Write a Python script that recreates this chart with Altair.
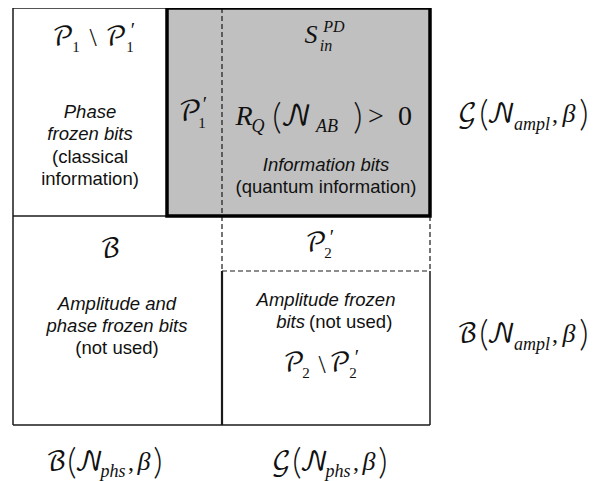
import altair as alt
import pandas as pd

# ---------------- diagram geometry (diagram units = page pixels) ----------------
X_LEFT, X_SPLIT1, X_SPLIT2, X_RIGHT = 13, 167, 222, 430
Y_TOP, Y_MID, Y_SUB, Y_BOTTOM = 8, 216, 271, 425

# shaded region (information bits)
gray_x = [X_SPLIT1]
gray_x2 = [X_RIGHT]
gray_y = [Y_TOP]
gray_y2 = [Y_MID]

# solid lines
solid_x = [X_LEFT, X_LEFT, X_LEFT, X_LEFT, X_SPLIT2, X_RIGHT]
solid_x2 = [X_LEFT, X_SPLIT1, X_RIGHT, X_SPLIT1, X_SPLIT2, X_RIGHT]
solid_y = [Y_TOP, Y_TOP, Y_BOTTOM, Y_MID, Y_SUB, Y_SUB]
solid_y2 = [Y_BOTTOM, Y_TOP, Y_BOTTOM, Y_MID, Y_BOTTOM, Y_BOTTOM]
solid_w = [1.5, 1.5, 1.5, 1.5, 2.2, 1.5]

# dashed lines
dash_x = [X_SPLIT2, X_SPLIT2, X_RIGHT]
dash_x2 = [X_SPLIT2, X_RIGHT, X_RIGHT]
dash_y = [Y_TOP, Y_SUB, Y_MID]
dash_y2 = [Y_SUB, Y_SUB, Y_SUB]

# ---------------- plain (sans) text ----------------
sans_text = ["Phase", "frozen bits", "(classical", "information)",
             "Information bits", "(quantum information)",
             "Amplitude and", "phase frozen bits", "(not used)",
             "Amplitude frozen", "bits", "(not used)"]
sans_x = [90, 90, 90, 90, 326, 326, 117, 117, 117, 326, 305, 309]
sans_y = [112, 134, 157, 179, 165, 187, 304, 326, 348, 300, 322, 322]
sans_italic = [True, True, False, False, True, False, True, True, False, True, True, False]
sans_align = ["center"] * 10 + ["right", "left"]

# ---------------- math pieces ----------------
# kinds: "scr" = script capital, "sym" = upright symbol, "par" = parenthesis,
#        "it" = italic letter, "sub" = italic sub/superscript
math_text, math_x, math_y, math_size, math_kind = [], [], [], [], []


def add(text, x, y, size, kind):
    math_text.append(text)
    math_x.append(x)
    math_y.append(y)
    math_size.append(size)
    math_kind.append(kind)


# P1 \ P1'
add("𝒫", 63, 45, 26, "scr"); add("1", 76, 52, 15, "sym"); add("\\", 93, 46, 26, "sym")
add("𝒫", 116, 45, 26, "scr"); add("1", 130, 52, 15, "sym"); add("′", 133, 37, 20, "sym")
# P1'
add("𝒫", 190, 121, 28, "scr"); add("1", 202, 128, 15, "sym"); add("′", 205, 111, 20, "sym")
# S_in^PD
add("S", 311, 43, 26, "it"); add("PD", 334, 32, 16, "sub"); add("in", 326, 51, 16, "sub")
# R_Q(N_AB) > 0
add("R", 244, 125, 28, "it"); add("Q", 258, 132, 18, "sub"); add("(", 277, 129, 36, "par")
add("𝒩", 296, 125, 28, "scr"); add("AB", 327, 132, 18, "sub"); add(")", 358, 129, 36, "par")
add(">", 376, 125, 28, "sym"); add("0", 405, 125, 28, "sym")
# B
add("ℬ", 110, 257, 26, "scr")
# P2'
add("𝒫", 316, 251, 26, "scr"); add("2", 328, 258, 15, "sym"); add("′", 332, 244, 20, "sym")
# P2 \ P2'
add("𝒫", 294, 371, 26, "scr"); add("2", 306, 378, 15, "sym"); add("\\", 322, 373, 26, "sym")
add("𝒫", 340, 371, 26, "scr"); add("2", 353, 378, 15, "sym"); add("′", 357, 364, 20, "sym")
# G(N_ampl, beta) and B(N_ampl, beta)
for letter, base in (("𝒢", 122), ("ℬ", 342)):
    add(letter, 467, base, 26, "scr"); add("(", 484, base + 4, 36, "par")
    add("𝒩", 501, base, 26, "scr"); add("ampl", 532, base + 8, 18, "sub")
    add(",", 555, base, 24, "sym"); add("β", 569, base, 26, "it"); add(")", 584, base + 4, 36, "par")
# B(N_phs, beta) and G(N_phs, beta)
for letter, x0 in (("ℬ", 56), ("𝒢", 281)):
    base = 470
    add(letter, x0, base, 26, "scr"); add("(", x0 + 16, base + 4, 36, "par")
    add("𝒩", x0 + 33, base, 26, "scr"); add("phs", x0 + 57, base + 7, 18, "sub")
    add(",", x0 + 75, base, 24, "sym"); add("β", x0 + 88, base, 26, "it"); add(")", x0 + 102, base + 4, 36, "par")

# ---------------- build chart ----------------
xs = alt.Scale(domain=[8, 602], nice=False, zero=False)
ys = alt.Scale(domain=[8, 481], nice=False, zero=False, reverse=True)


def X(f):
    return alt.X(f, type="quantitative", scale=xs, axis=None)


def Y(f):
    return alt.Y(f, type="quantitative", scale=ys, axis=None)


gray_df = pd.DataFrame({"x": gray_x, "x2": gray_x2, "y": gray_y, "y2": gray_y2})
solid_df = pd.DataFrame({"x": solid_x, "x2": solid_x2, "y": solid_y, "y2": solid_y2, "w": solid_w})
dash_df = pd.DataFrame({"x": dash_x, "x2": dash_x2, "y": dash_y, "y2": dash_y2})
sans_df = pd.DataFrame({"text": sans_text, "x": sans_x, "y": sans_y,
                        "italic": sans_italic, "align": sans_align})
math_df = pd.DataFrame({"text": math_text, "x": math_x, "y": math_y,
                        "size": math_size, "kind": math_kind})

gray = alt.Chart(gray_df).mark_rect(fill="#c0c0c0", stroke=None).encode(
    x=X("x"), x2="x2", y=Y("y"), y2="y2")

solid = alt.Chart(solid_df).mark_rule(color="#1a1a1a").encode(
    x=X("x"), x2="x2", y=Y("y"), y2="y2",
    strokeWidth=alt.StrokeWidth("w:Q", scale=None))

dashed = alt.Chart(dash_df).mark_rule(color="#1a1a1a", strokeWidth=1.2, strokeDash=[5, 3]).encode(
    x=X("x"), x2="x2", y=Y("y"), y2="y2")

box = alt.Chart(gray_df).mark_rect(fill=None, stroke="black", strokeWidth=3.5, filled=False).encode(
    x=X("x"), x2="x2", y=Y("y"), y2="y2")

layers = [gray, solid, dashed, box]

for italic in (True, False):
    for align in ("center", "right", "left"):
        sub = sans_df[(sans_df["italic"] == italic) & (sans_df["align"] == align)]
        if len(sub) == 0:
            continue
        layers.append(
            alt.Chart(sub).mark_text(font="Liberation Sans", fontSize=18.5,
                                     fontStyle="italic" if italic else "normal",
                                     align=align, baseline="middle", color="#111111")
            .encode(x=X("x"), y=Y("y"), text="text:N"))

fonts = {
    "scr": "'DejaVu Math TeX Gyre', 'STIX Two Math', 'Noto Sans Math', 'Liberation Serif', serif",
    "sym": "Liberation Serif",
    "par": "Lato",
    "it": "Liberation Serif",
    "sub": "Liberation Serif",
}
weights = {"scr": "normal", "sym": "normal", "par": 300, "it": "normal", "sub": "normal"}
for kind in ("scr", "sym", "par", "it", "sub"):
    sub = math_df[math_df["kind"] == kind]
    layers.append(
        alt.Chart(sub).mark_text(font=fonts[kind], fontWeight=weights[kind],
                                 fontStyle="italic" if kind in ("it", "sub") else "normal",
                                 align="center", baseline="alphabetic", color="#111111")
        .encode(x=X("x"), y=Y("y"), text="text:N",
                size=alt.Size("size:Q", scale=None)))

chart = alt.layer(*layers).properties(
    width=594, height=473, padding=0,
    autosize=alt.AutoSizeParams(type="none"),
).configure_view(stroke=None)

chart.save("out.html", embed_options={"renderer": "svg", "actions": False})
